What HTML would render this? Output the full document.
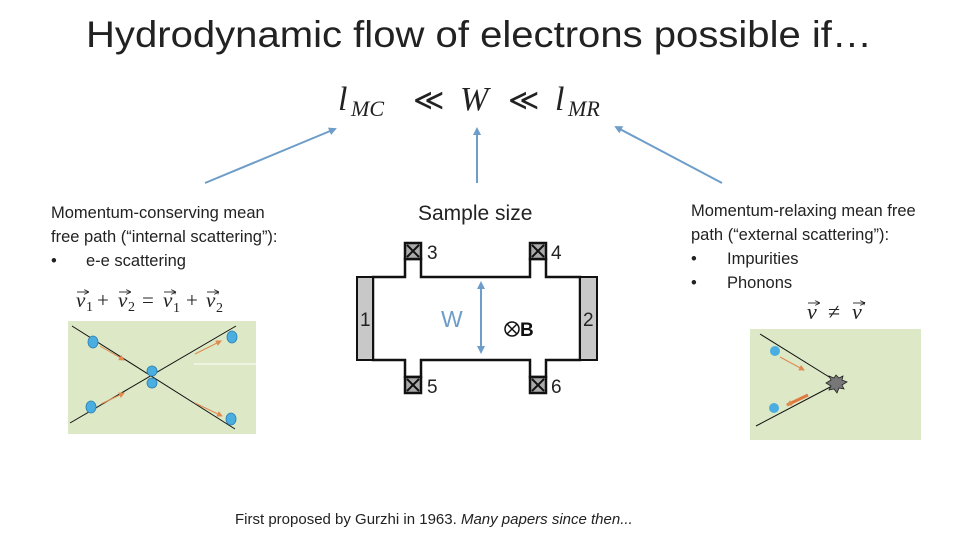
<!DOCTYPE html>
<html><head><meta charset="utf-8"><style>
body{margin:0;background:#fff;}
svg{display:block;}
text{font-family:"Liberation Sans",sans-serif;}
.s{font-family:"Liberation Serif",serif;font-style:italic;}
.r{font-family:"Liberation Serif",serif;}
</style></head><body>
<svg width="960" height="540" viewBox="0 0 960 540" xmlns="http://www.w3.org/2000/svg">
<defs>
<marker id="ah" markerWidth="8" markerHeight="8" refX="6" refY="4" orient="auto" markerUnits="userSpaceOnUse"><path d="M0,0 L8,4 L0,8 z" fill="#6d9dc8"/></marker>
<marker id="ab" markerWidth="8" markerHeight="8" refX="6" refY="4" orient="auto-start-reverse" markerUnits="userSpaceOnUse"><path d="M0,0 L8,4 L0,8 z" fill="#6d9dc8"/></marker>
<marker id="ao" markerWidth="6" markerHeight="6" refX="5" refY="3" orient="auto" markerUnits="userSpaceOnUse"><path d="M0,0 L6,3 L0,6 z" fill="#e08a50"/></marker>
<marker id="vk" markerWidth="5" markerHeight="5" refX="4" refY="2.5" orient="auto" markerUnits="userSpaceOnUse"><path d="M0,0 L5,2.5 L0,5" fill="none" stroke="#222" stroke-width="0.8"/></marker>
</defs>
<text x="86" y="47" font-size="37" fill="#222" textLength="786" lengthAdjust="spacingAndGlyphs">Hydrodynamic flow of electrons possible if…</text>
<text x="338" y="110" font-size="34" class="s" fill="#222">l</text>
<text x="351" y="116" font-size="22" class="s" fill="#222">MC</text>
<text x="413" y="110" font-size="30" fill="#222" font-family="DejaVu Sans">≪</text>
<text x="460" y="110" font-size="34" class="s" fill="#222">W</text>
<text x="508" y="110" font-size="30" fill="#222" font-family="DejaVu Sans">≪</text>
<text x="555" y="110" font-size="34" class="s" fill="#222">l</text>
<text x="568" y="116" font-size="22" class="s" fill="#222">MR</text>
<g stroke="#6d9dc8" stroke-width="2" fill="none">
<line x1="205" y1="183" x2="335" y2="129" marker-end="url(#ah)"/>
<line x1="477" y1="183" x2="477" y2="129" marker-end="url(#ah)"/>
<line x1="722" y1="183" x2="616" y2="127" marker-end="url(#ah)"/>
</g>
<g font-size="16.5" fill="#222">
<text x="51" y="218">Momentum-conserving mean</text>
<text x="51" y="242">free path (“internal scattering”):</text>
<text x="51" y="266">•</text><text x="86" y="266">e-e scattering</text>
<text x="418" y="220" font-size="21">Sample size</text>
<text x="691" y="216">Momentum-relaxing mean free</text>
<text x="691" y="240">path (“external scattering”):</text>
<text x="691" y="264">•</text><text x="727" y="264">Impurities</text>
<text x="691" y="288">•</text><text x="727" y="288">Phonons</text>
<text x="235" y="524" font-size="15">First proposed by Gurzhi in 1963. <tspan font-style="italic">Many papers since then...</tspan></text>
</g>
<!-- left formula -->
<g fill="#222" font-size="21">
<text x="76" y="307" class="s">v</text><text x="86" y="311" class="r" font-size="14">1</text>
<text x="97" y="307" class="r">+</text>
<text x="118" y="307" class="s">v</text><text x="128" y="311" class="r" font-size="14">2</text>
<text x="142" y="307" class="r">=</text>
<text x="163" y="307" class="s">v</text><text x="174" y="300" class="r" font-size="13">′</text><text x="173" y="312" class="r" font-size="14">1</text>
<text x="186" y="307" class="r">+</text>
<text x="206" y="307" class="s">v</text><text x="217" y="300" class="r" font-size="13">′</text><text x="216" y="312" class="r" font-size="14">2</text>
</g>
<g stroke="#222" stroke-width="0.9" marker-end="url(#vk)">
<line x1="77" y1="292" x2="88" y2="292"/><line x1="119" y1="292" x2="130" y2="292"/>
<line x1="164" y1="292" x2="175" y2="292"/><line x1="207" y1="292" x2="218" y2="292"/>
</g>
<rect x="68" y="321" width="188" height="113" fill="#dce8c6"/>
<line x1="194" y1="364" x2="256" y2="364" stroke="#fff" stroke-width="1"/>
<g stroke="#111" stroke-width="1">
<line x1="72" y1="326" x2="235" y2="429"/>
<line x1="70" y1="423" x2="236" y2="326"/>
</g>
<g stroke="#e08a50" stroke-width="1" marker-end="url(#ao)">
<line x1="100" y1="346" x2="124" y2="360"/><line x1="101" y1="404" x2="124" y2="393"/>
<line x1="195" y1="354" x2="221" y2="341"/><line x1="195" y1="403" x2="222" y2="416"/>
</g>
<g fill="#4aaee0" stroke="#2a7fb0" stroke-width="0.8">
<ellipse cx="93" cy="342" rx="5" ry="6"/><ellipse cx="91" cy="407" rx="5" ry="6"/>
<ellipse cx="152" cy="371" rx="5" ry="5"/><ellipse cx="152" cy="383" rx="5" ry="5"/>
<ellipse cx="232" cy="337" rx="5" ry="6"/><ellipse cx="231" cy="419" rx="5" ry="6"/>
</g>
<!-- right formula -->
<g fill="#222" font-size="22">
<text x="807" y="319" class="s">v</text>
<text x="828" y="319" class="r">≠</text>
<text x="852" y="319" class="s">v</text><text x="863" y="311" class="r" font-size="14">′</text>
</g>
<g stroke="#222" stroke-width="0.9" marker-end="url(#vk)">
<line x1="808" y1="303" x2="819" y2="303"/><line x1="853" y1="303" x2="864" y2="303"/>
</g>
<rect x="750" y="329" width="171" height="111" fill="#dce8c6"/>
<g stroke="#111" stroke-width="1">
<line x1="760" y1="334" x2="834" y2="380"/><line x1="756" y1="426" x2="834" y2="385"/>
</g>
<line x1="780" y1="357" x2="804" y2="370" stroke="#e08a50" stroke-width="1" marker-end="url(#ao)"/>
<line x1="808" y1="395" x2="787" y2="405" stroke="#e07a40" stroke-width="3" marker-end="url(#ao)"/>
<polygon points="836,375 839,378 843,376 842,380 847,382 842,385 844,389 839,388 837,393 834,389 829,390 831,386 826,383 831,380 829,376 834,378" fill="#777" stroke="#222" stroke-width="0.8"/>
<circle cx="775" cy="351" r="5" fill="#4aaee0"/><circle cx="774" cy="408" r="5" fill="#4aaee0"/>
<!-- device -->
<g stroke="#111" stroke-width="2.5" fill="#fff">
<path d="M373,277 H405 V259 H421 V277 H530 V259 H546 V277 H580 V360 H546 V377 H530 V360 H421 V377 H405 V360 H373 Z"/>
</g>
<g stroke="#111" stroke-width="2" fill="#c8c8c8">
<rect x="357" y="277" width="16" height="83"/><rect x="580" y="277" width="17" height="83"/>
</g>
<g stroke="#111" stroke-width="2.5" fill="#aaa">
<rect x="405" y="243" width="16" height="16"/><rect x="530" y="243" width="16" height="16"/>
<rect x="405" y="377" width="16" height="16"/><rect x="530" y="377" width="16" height="16"/>
</g>
<g stroke="#111" stroke-width="2">
<path d="M407,245 L419,257 M419,245 L407,257"/><path d="M532,245 L544,257 M544,245 L532,257"/>
<path d="M407,379 L419,391 M419,379 L407,391"/><path d="M532,379 L544,391 M544,379 L532,391"/>
</g>
<g font-size="19" fill="#222">
<text x="427" y="259">3</text><text x="551" y="259">4</text>
<text x="427" y="393">5</text><text x="551" y="393">6</text>
<text x="360" y="326">1</text><text x="583" y="326">2</text>
</g>
<line x1="481" y1="283" x2="481" y2="352" stroke="#6d9dc8" stroke-width="2" marker-start="url(#ab)" marker-end="url(#ab)"/>
<text x="441" y="327" font-size="23" fill="#6d9dc8">W</text>
<circle cx="512" cy="329" r="7" fill="none" stroke="#111" stroke-width="1.5"/>
<path d="M507,324 L517,334 M517,324 L507,334" stroke="#111" stroke-width="1.5"/>
<text x="520" y="336" font-size="19" font-weight="bold" font-family="Liberation Serif" fill="#111">B</text>
</svg>
</body></html>
